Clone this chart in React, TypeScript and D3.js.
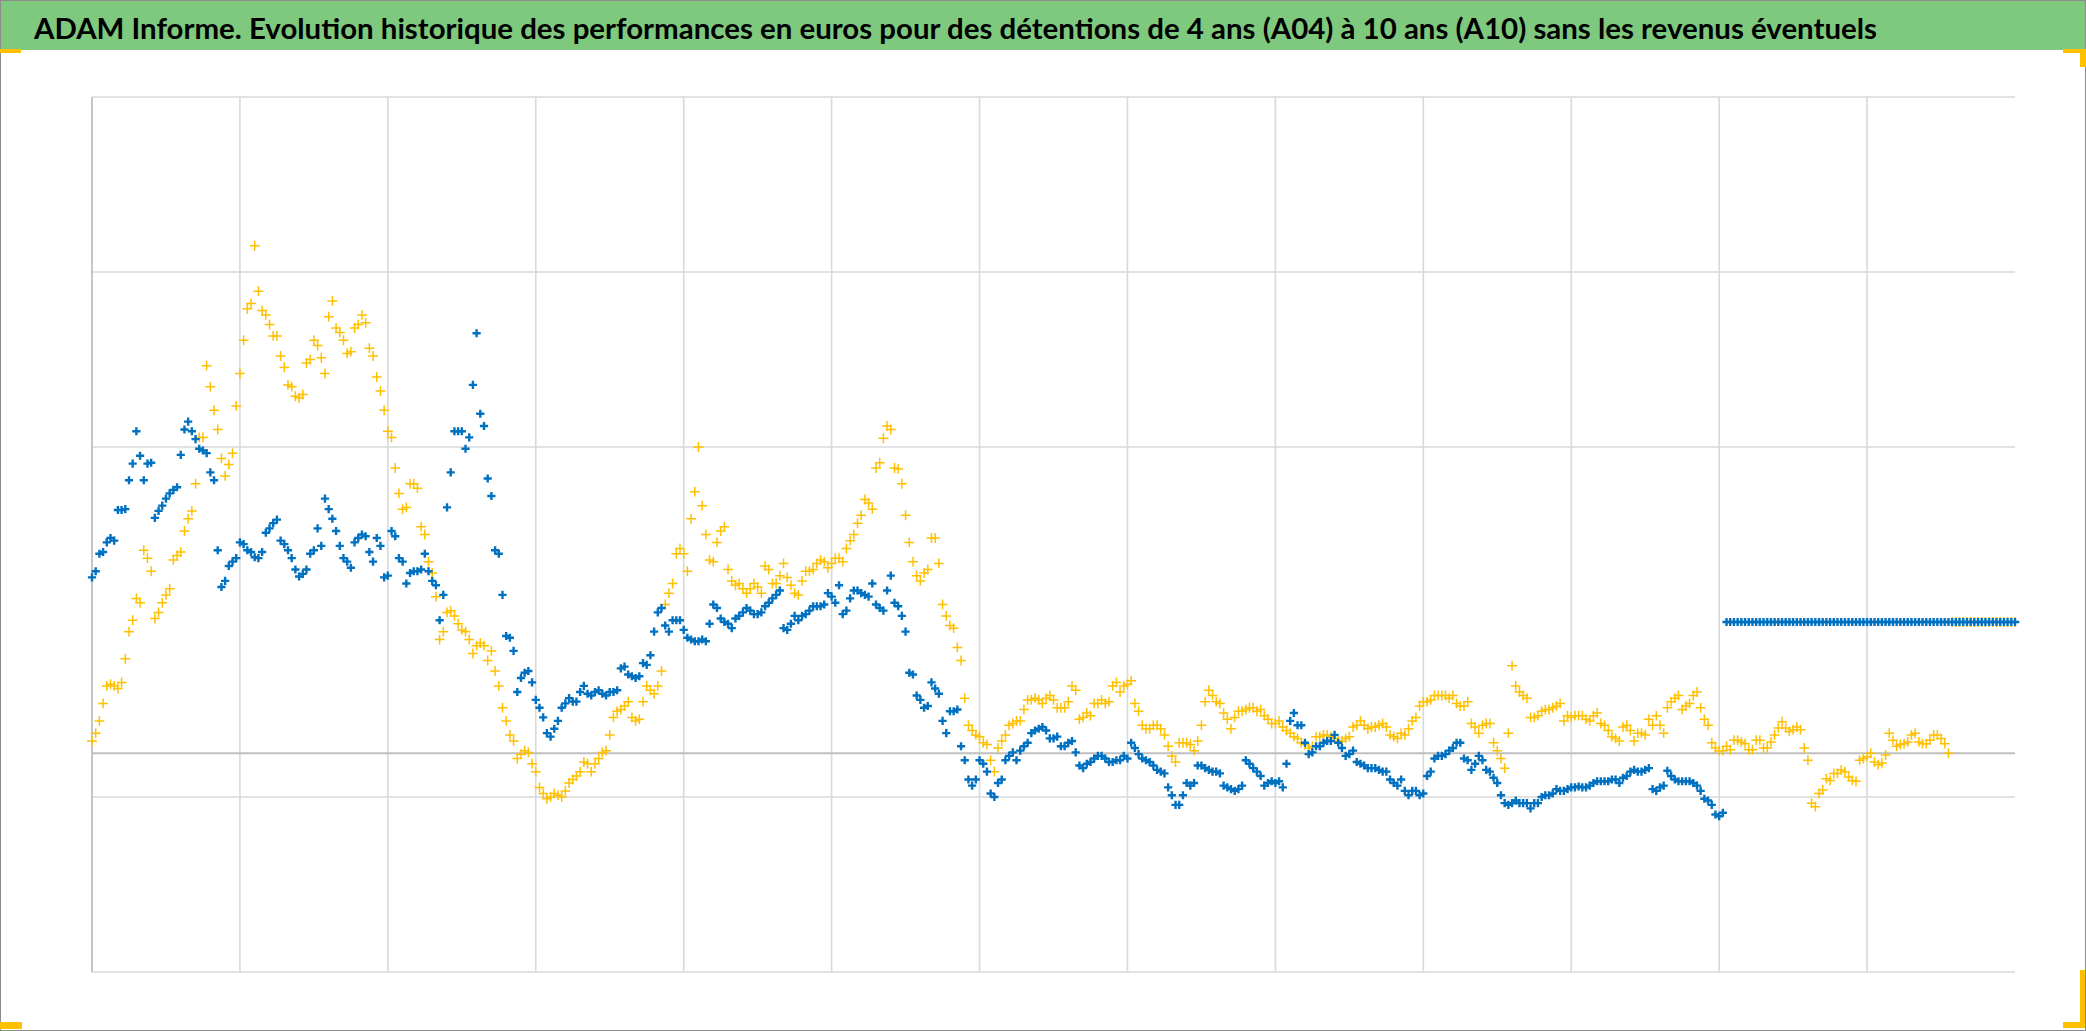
import React from "react";
import * as d3 from "d3";

const TITLE =
  "ADAM Informe. Evolution historique des performances en euros pour des détentions de 4 ans (A04) à 10 ans (A10) sans les revenus éventuels";

// x axis: years since start of the history (no labels shown on the chart)
const yearTicks = [0, 1, 2, 3, 4, 5, 6, 7, 8, 9, 10, 11, 12, 13];
const stepYears = 0.05; // observations read every 1/20 year, plus the half-step readings
// y axis: performance in %
const valueGridTicks = [-25, -5, 35, 55, 75];
const valueDomain = [-25, 75];
const zeroValue = 0;

// ---------- Series A04 (blue), readings at whole steps ----------
const a04Block1 = [20.1, 22.8, 24.1, 24.3, 27.8, 31.2, 36.8, 31.2, 33.2, 27.7, 29.1, 30.1, 34.1, 37.9, 35.9, 34.6, 32.1, 23.2, 19.7, 21.9, 24.1, 23.2, 22.4, 23.0, 25.7, 26.7, 23.9, 22.3, 20.2, 21.0, 23.2, 23.7, 27.9, 25.4, 22.3, 21.2, 24.6];
const a04Block2 = [24.8, 21.9, 23.7, 20.3, 24.8, 21.9, 20.6, 20.8, 22.8, 19.7, 15.2, 28.1, 36.8, 36.8, 36.1, 48.0, 37.4, 29.4, 22.8, 13.4, 11.7, 8.6, 9.4, 6.1, 4.1, 1.9, 3.7, 5.7, 5.9, 7.0, 6.8, 7.0, 6.8, 7.0, 7.2, 9.9, 8.8];
const a04Block3 = [8.8, 10.1, 13.9, 16.6, 13.9, 15.2, 14.1, 13.0, 12.8, 12.8, 17.0, 15.4, 14.8, 15.4, 16.1, 16.3, 15.9, 16.8, 17.7, 18.6, 14.1, 15.7, 15.7, 16.3, 16.8, 17.0, 17.9, 19.2, 16.3, 18.6, 18.3, 17.9, 17.0, 16.3, 20.3, 16.8, 13.9];
const a04Block4 = [9.0, 6.1, 5.4, 7.4, 3.7, 4.8, 5.0, -0.8, -3.7, -0.8, -2.1, -5.0, -3.0, -0.3, -0.8, 0.8, 2.3, 2.8, 2.6, 1.7, 0.8, 1.2, 0.1, -1.7, -1.0, -0.3, -0.6, -1.0, -0.8, -0.6, 0.6, -0.6, -1.0, -1.9, -2.3, -4.8, -5.9];
const a04Block5 = [-3.4, -3.4, -1.4, -1.9, -2.1, -3.7, -4.1, -4.1, -0.8, -1.7, -2.6, -3.4, -3.4, -3.9, 3.7, 3.2, 1.2, 0.1, 0.8, 1.4, 2.1, 0.6, -0.1, -1.0, -1.4, -1.7, -1.9, -2.1, -3.4, -3.0, -4.8, -4.3, -4.6, -2.1, -0.3, -0.1, 0.6, 1.2];
const a04Block6 = [-0.8, -1.2, -0.8, -2.1, -3.4, -5.7, -5.7, -5.7, -5.7, -5.7, -5.0, -4.8, -4.1, -4.3, -3.9, -3.8, -3.9, -3.4, -3.2, -3.2, -3.0, -2.8, -2.1, -2.1, -1.9, -4.1, -3.9, -2.0, -3.0, -3.2, -3.2, -3.7, -5.2, -5.9, -7.2];
const a04Tail = [15, 15, 15, 15, 15, 15, 15, 15, 15, 15, 15, 15, 15, 15, 15, 15, 15, 15, 15, 15, 15, 15, 15, 15, 15, 15, 15, 15, 15, 15, 15, 15, 15, 15, 15, 15, 15, 15, 15, 15];

// ---------- Series A04 (blue), readings at half steps ----------
const a04MidBlock1 = [20.8, 23.0, 24.6, 27.8, 27.9, 33.1, 34.0, 33.1, 26.9, 28.3, 29.7, 30.4, 37.0, 36.8, 34.8, 34.3, 31.2, 19.0, 21.4, 22.3, 23.9, 23.0, 22.3, 25.2, 26.3, 24.3, 23.2, 21.0, 20.5, 22.8, 25.7, 29.1, 26.8, 23.7, 21.9, 24.1];
const a04MidBlock2 = [25.0, 23.0, 24.6, 20.1, 25.4, 22.3, 19.4, 20.8, 21.0, 20.8, 19.2, 18.1, 32.1, 36.8, 34.8, 42.1, 38.8, 31.4, 23.2, 18.1, 13.2, 7.0, 9.2, 8.1, 5.2, 2.3, 2.8, 5.2, 6.3, 5.9, 7.7, 6.6, 7.2, 6.6, 7.0, 9.7, 9.0, 8.6];
const a04MidBlock3 = [10.3, 11.2, 16.1, 14.6, 15.2, 15.2, 13.2, 12.8, 13.0, 14.8, 16.6, 15.0, 14.3, 15.7, 16.6, 15.9, 16.1, 17.2, 18.1, 14.3, 14.8, 15.2, 15.9, 16.8, 16.8, 18.3, 17.2, 15.9, 17.7, 18.6, 18.1, 19.4, 16.6, 18.6, 17.2, 15.7, 9.2];
const a04MidBlock4 = [6.6, 5.2, 8.1, 6.8, 2.3, 4.8, 0.8, -3.0, -3.0, -1.2, -4.6, -3.4, -0.8, 0.1, 0.3, 1.2, 2.6, 3.0, 1.7, 1.9, 0.8, 1.4, -1.4, -1.2, -0.6, -0.3, -1.0, -0.8, -0.3, 1.2, -0.1, -0.8, -1.4, -2.1, -3.9, -5.9, -4.8];
const a04MidBlock5 = [-3.7, -1.4, -1.7, -2.1, -2.3, -3.9, -4.3, -3.7, -1.2, -2.1, -3.7, -3.2, -3.2, -1.2, 4.6, 3.2, -0.1, 0.8, 1.2, 1.4, 1.2, -0.3, 0.3, -1.2, -1.7, -1.7, -2.1, -3.0, -3.7, -4.3, -4.3, -4.8, -2.6, -0.6, -0.3, 0.3, 1.2];
const a04MidBlock6 = [-0.6, -1.9, -0.3, -1.9, -2.8, -4.8, -5.9, -5.4, -5.7, -6.3, -5.7, -4.8, -4.6, -4.3, -4.1, -3.9, -3.9, -3.7, -3.2, -3.2, -3.0, -3.4, -2.6, -1.9, -2.1, -1.7, -4.3, -3.7, -2.6, -3.2, -3.2, -3.4, -4.3, -5.4, -7.0, -6.8];
const a04MidTail = [15, 15, 15, 15, 15, 15, 15, 15, 15, 15, 15, 15, 15, 15, 15, 15, 15, 15, 15, 15, 15, 15, 15, 15, 15, 15, 15, 15, 15, 15, 15, 15, 15, 15, 15, 15, 15, 15, 15];

// ---------- Series A10 (yellow), readings at whole steps ----------
const a10Block1 = [1.4, 3.7, 7.7, 7.7, 8.1, 13.9, 17.7, 23.2, 20.8, 16.1, 18.1, 22.1, 23.0, 26.8, 30.8, 36.1, 41.9, 37.0, 31.7, 34.3, 43.4, 50.8, 58.0, 50.6, 49.0, 47.7, 44.1, 41.9, 40.6, 44.6, 47.2, 45.2, 49.9, 48.6, 47.2, 45.9, 49.0];
const a10Block2 = [49.2, 45.4, 41.4, 36.8, 32.6, 27.9, 30.8, 30.3, 25.0, 20.6, 13.0, 16.1, 15.7, 14.1, 13.0, 12.3, 12.3, 11.7, 7.7, 3.7, 1.4, -0.1, 0.1, -2.1, -4.6, -5.0, -4.8, -4.3, -3.0, -2.1, -1.2, -1.2, 0.1, 2.1, 4.8, 5.4, 4.1];
const a10Block3 = [3.9, 7.7, 6.8, 9.4, 18.3, 22.8, 22.8, 26.8, 35.0, 25.0, 21.9, 25.4, 21.0, 19.2, 18.8, 18.8, 19.0, 21.4, 19.4, 20.3, 20.1, 18.3, 19.7, 20.8, 21.7, 21.9, 21.7, 22.3, 23.4, 25.0, 27.2, 28.6, 32.6, 36.0, 37.0, 32.5, 27.2];
const a10Block4 = [21.9, 19.7, 21.0, 24.6, 17.0, 14.6, 12.1, 6.3, 2.6, 1.9, 1.0, -2.1, 1.4, 3.2, 3.7, 5.0, 6.1, 6.1, 6.3, 6.1, 5.2, 5.9, 7.2, 4.1, 4.3, 5.7, 5.7, 7.7, 7.0, 7.9, 5.7, 3.2, 2.8, 3.2, 2.1, -0.3, 1.2];
const a10Block5 = [1.2, 0.3, 3.2, 7.2, 5.9, 4.6, 2.8, 4.8, 5.0, 5.2, 5.0, 3.9, 3.4, 3.0, 2.3, 1.7, 1.0, 0.8, 1.9, 2.1, 1.7, 1.4, 1.9, 3.2, 3.2, 3.0, 3.2, 3.0, 1.9, 2.3, 2.8, 4.1, 5.9, 6.1, 6.6, 6.6, 6.6, 5.4];
const a10Block6 = [5.9, 3.0, 3.2, 3.4, 0.3, -1.7, 10.0, 7.0, 6.3, 4.1, 4.8, 5.0, 5.4, 3.7, 4.1, 4.3, 3.9, 4.3, 3.4, 2.6, 1.7, 3.0, 2.6, 2.3, 2.1, 3.2, 3.2, 5.2, 6.3, 5.0, 5.7, 7.0, 3.9, 1.2, 0.3, 0.8];
const a10Block7 = [1.5, 1.3, 0.4, 1.5, 0.6, 1.3, 2.9, 2.9, 2.7, 2.7, -0.8, -6.1, -4.2, -3.1, -2.3, -2.1, -3.1, -0.8, -0.4, -1.0, -1.1, 2.3, 0.8, 1.1, 2.1, 1.3, 1.1, 2.1, 1.7, 0.0];
const a10Tail = [15, 15, 15, 15, 15, 15, 15, 15, 15];

// ---------- Series A10 (yellow), readings at half steps ----------
const a10MidBlock1 = [2.3, 5.7, 7.9, 7.4, 10.8, 15.2, 17.2, 22.3, 15.4, 17.2, 18.8, 22.6, 25.4, 27.7, 36.1, 44.3, 39.2, 33.7, 33.0, 39.7, 47.2, 51.4, 52.8, 50.1, 47.7, 45.4, 42.1, 40.8, 41.0, 45.0, 46.6, 43.4, 51.7, 48.1, 45.7, 48.6];
const a10MidBlock2 = [50.1, 46.3, 43.0, 39.2, 36.1, 29.7, 28.1, 30.8, 25.9, 21.9, 17.9, 13.9, 16.3, 14.8, 13.9, 11.4, 12.6, 10.6, 9.4, 5.2, 2.1, -0.6, 0.3, -1.2, -3.9, -5.2, -4.6, -5.0, -3.4, -2.6, -1.0, -2.1, -0.6, 0.3, 4.1, 5.0, 5.9, 3.7];
const a10MidBlock3 = [5.9, 7.2, 7.7, 17.0, 19.4, 23.4, 20.8, 29.9, 28.3, 22.1, 24.1, 25.9, 19.7, 19.4, 18.3, 19.4, 18.3, 21.0, 19.4, 21.7, 19.2, 18.1, 20.8, 21.0, 22.1, 21.2, 22.3, 21.9, 24.3, 26.3, 29.0, 27.9, 33.2, 37.4, 32.6, 30.8, 24.1];
const a10MidBlock4 = [20.3, 20.6, 24.6, 21.7, 15.7, 14.3, 10.6, 3.2, 2.1, 1.2, -0.8, 0.6, 2.1, 3.4, 3.7, 6.1, 6.3, 5.7, 6.6, 5.2, 5.2, 7.7, 3.9, 4.6, 5.7, 6.1, 5.9, 8.1, 7.7, 8.3, 4.8, 2.8, 3.2, 2.8, 0.8, -1.0, 1.2];
const a10MidBlock5 = [1.0, 1.4, 5.9, 6.6, 5.7, 3.9, 4.1, 4.8, 5.2, 4.8, 4.3, 3.4, 3.7, 2.6, 1.9, 1.2, 0.6, 1.9, 2.1, 1.9, 1.4, 1.7, 3.0, 3.7, 2.8, 3.0, 3.4, 2.1, 1.7, 2.1, 3.7, 5.4, 5.9, 6.6, 6.6, 6.3, 5.7];
const a10MidBlock6 = [5.4, 3.4, 2.3, 3.4, 1.2, -0.6, 2.3, 7.7, 6.6, 4.1, 4.3, 5.0, 5.2, 5.7, 4.3, 4.3, 4.3, 3.7, 4.6, 3.2, 1.9, 1.4, 3.2, 1.4, 2.3, 3.9, 4.3, 2.3, 5.9, 6.6, 5.4, 6.6, 5.2, 3.2, 0.6, 0.3];
const a10MidBlock7 = [0.4, 1.5, 1.1, 0.4, 1.5, 0.6, 2.1, 3.6, 2.5, 3.0, 0.6, -5.7, -4.6, -2.9, -2.3, -1.9, -2.7, -3.2, -0.6, 0.0, -1.3, -0.2, 1.5, 1.0, 1.3, 2.3, 1.1, 1.5, 2.1, 1.1];
const a10MidTail = [15, 15, 15, 15, 15, 15, 15, 15, 15];

const a04 = [...a04Block1, ...a04Block2, ...a04Block3, ...a04Block4, ...a04Block5, ...a04Block6, ...a04Tail];
const a04Mid = [...a04MidBlock1, ...a04MidBlock2, ...a04MidBlock3, ...a04MidBlock4, ...a04MidBlock5, ...a04MidBlock6, ...a04MidTail];
const a10 = [...a10Block1, ...a10Block2, ...a10Block3, ...a10Block4, ...a10Block5, ...a10Block6, ...a10Block7, ...a10Tail];
const a10Mid = [...a10MidBlock1, ...a10MidBlock2, ...a10MidBlock3, ...a10MidBlock4, ...a10MidBlock5, ...a10MidBlock6, ...a10MidBlock7, ...a10MidTail];

const toPoints = (whole: number[], half: number[]) => [
  ...whole.map((v, i) => ({ t: i * stepYears, v })),
  ...half.map((v, i) => ({ t: (i + 0.5) * stepYears, v })),
].sort((a, b) => a.t - b.t);

const W = 2086;
const H = 1031;
const M = { left: 92, right: 2015, top: 97, bottom: 972 };

export default function App() {
  const x = d3.scaleLinear().domain([yearTicks[0], yearTicks[yearTicks.length - 1]]).range([M.left, M.right]);
  const y = d3.scaleLinear().domain(valueDomain).range([M.bottom, M.top]);

  const bluePts = toPoints(a04, a04Mid);
  const yellowPts = toPoints(a10, a10Mid);

  const plusBlue = "M-4.1,0H4.1M0,-4.1V4.1";
  const plusYellow = "M-4.9,0H4.9M0,-4.9V4.9";

  return (
    <svg
      width={W}
      height={H}
      style={{ position: "absolute", left: 0, top: 0, display: "block", background: "#fff" }}
    >
      <rect x={0} y={0} width={W} height={H} fill="#ffffff" />
      {/* title band */}
      <rect x={1} y={1} width={W - 2} height={49} fill="#7ec97e" />
      <text
        x={34}
        y={39}
        fontFamily="Lato, 'Open Sans', sans-serif"
        fontWeight={700}
        fontSize={29}
        fill="#000"
        textLength={1843}
        lengthAdjust="spacingAndGlyphs"
      >
        {TITLE}
      </text>

      {/* gridlines */}
      <g>
        {yearTicks.slice(1, -1).map((t) => (
          <line key={"v" + t} x1={x(t)} x2={x(t)} y1={M.top} y2={M.bottom} stroke="#d9d9d9" strokeWidth={1.6} />
        ))}
        {valueGridTicks.map((v) => (
          <line key={"h" + v} x1={M.left} x2={M.right} y1={y(v)} y2={y(v)} stroke="#d9d9d9" strokeWidth={1.6} />
        ))}
        <line x1={M.left} x2={M.right} y1={y(zeroValue)} y2={y(zeroValue)} stroke="#bfbfbf" strokeWidth={1.8} />
        <line x1={M.left} x2={M.left} y1={M.top} y2={M.bottom} stroke="#bfbfbf" strokeWidth={1.8} />
      </g>

      {/* series A10 (yellow) */}
      <g stroke="#ffc000" strokeWidth={1.5} fill="none">
        {yellowPts.map((p, i) => (
          <path key={"y" + i} d={plusYellow} transform={`translate(${x(p.t)},${y(p.v)})`} />
        ))}
      </g>
      {/* series A04 (blue) */}
      <g stroke="#0070c0" strokeWidth={2.4} fill="none">
        {bluePts.map((p, i) => (
          <path key={"b" + i} d={plusBlue} transform={`translate(${x(p.t)},${y(p.v)})`} />
        ))}
      </g>

      {/* frame and selection corners */}
      <rect x={0.5} y={0.5} width={W - 1} height={H - 1} fill="none" stroke="#8c8c8c" strokeWidth={1} />
      <rect x={0} y={49} width={21} height={4} fill="#ffc000" />
      <rect x={2063} y={49} width={23} height={4} fill="#ffc000" />
      <rect x={2080} y={49} width={6} height={18} fill="#ffc000" />
      <rect x={0} y={1022} width={22} height={7} fill="#ffc000" />
      <rect x={2063} y={1022} width={22} height={6} fill="#ffc000" />
      <rect x={2080} y={970} width={5} height={58} fill="#ffc000" />
    </svg>
  );
}
